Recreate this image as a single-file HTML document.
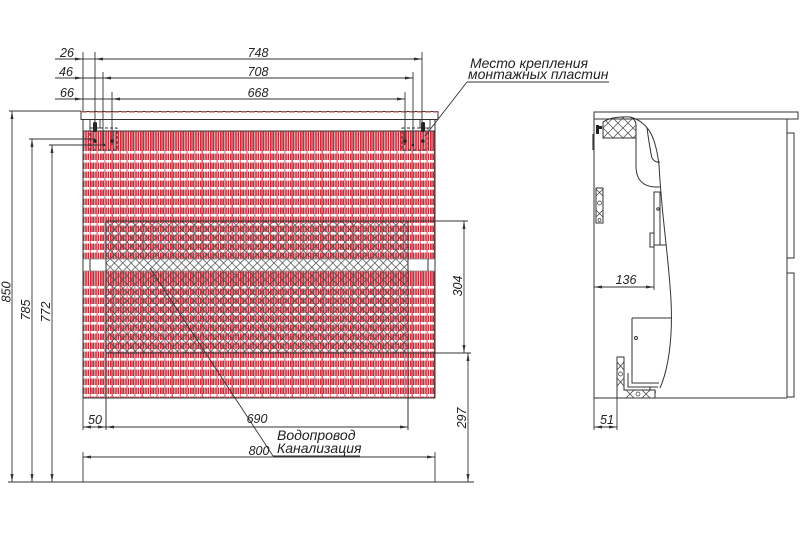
<!DOCTYPE html>
<html><head><meta charset="utf-8">
<style>
html,body{margin:0;padding:0;background:#fff;}
svg{display:block;}
text{font-family:"Liberation Sans","DejaVu Sans",sans-serif;font-style:italic;fill:#222;}
</style></head><body>
<svg width="800" height="533" viewBox="0 0 800 533" xmlns="http://www.w3.org/2000/svg">
<defs>
<marker id="a" markerWidth="8" markerHeight="4" refX="8" refY="2" orient="auto-start-reverse" markerUnits="userSpaceOnUse">
<path d="M0,0.5 L8,2 L0,3.5 Z" fill="#333"/>
</marker>
<pattern id="vs" x="83" y="0" width="10" height="10" patternUnits="userSpaceOnUse">
<rect width="10" height="10" fill="#d88890"/>
<rect x="0" width="1.5" height="10" fill="#a83a44"/>
<rect x="1.5" width="0.8" height="10" fill="#fff"/>
<rect x="2.3" width="1.5" height="10" fill="#e02030"/>
<rect x="3.8" width="1" height="10" fill="#f0c0c4"/>
<rect x="4.8" width="1.5" height="10" fill="#b8323e"/>
<rect x="6.3" width="0.7" height="10" fill="#fff"/>
<rect x="7" width="1.2" height="10" fill="#d82838"/>
<rect x="8.2" width="1.8" height="10" fill="#cf6670"/>
</pattern>
<pattern id="hr" x="83" y="151" width="7.5" height="9" patternUnits="userSpaceOnUse">
<rect x="0" y="0" width="6" height="2.6" fill="#fff" opacity="0.95"/>
</pattern>
<pattern id="xh" x="106" y="221" width="8.4" height="8.4" patternUnits="userSpaceOnUse">
<path d="M0,0 L8.4,8.4 M8.4,0 L0,8.4" stroke="#4a4a4a" stroke-width="0.7" fill="none"/>
</pattern>
<pattern id="xh2" x="603" y="118" width="10" height="10" patternUnits="userSpaceOnUse">
<path d="M0,0 L10,10 M10,0 L0,10" stroke="#444" stroke-width="0.7" fill="none"/>
</pattern>
</defs>

<g stroke="#333" stroke-width="1" fill="none">
<rect x="81" y="111.5" width="357" height="8" fill="#fff"/>
<line x1="81" y1="112" x2="438" y2="112" stroke="#d07070" stroke-dasharray="6 2" stroke-width="1.2"/>
<line x1="83" y1="119.5" x2="83" y2="131"/>
<line x1="435" y1="119.5" x2="435" y2="131"/>
</g>

<!-- cabinet body -->
<rect x="83" y="131" width="352" height="267" fill="url(#vs)"/>
<rect x="83" y="150" width="352" height="108" fill="url(#hr)"/>
<rect x="83" y="285" width="352" height="112" fill="url(#hr)"/>
<rect x="83" y="259" width="352" height="12" fill="#fff"/>
<rect x="106" y="221" width="302" height="132" fill="url(#xh)"/>
<g stroke="#333" stroke-width="1" fill="none">
<rect x="83" y="131" width="352" height="267"/>
<line x1="83" y1="259" x2="435" y2="259" stroke="#888" stroke-width="0.7"/>
<line x1="83" y1="271" x2="435" y2="271" stroke="#888" stroke-width="0.7"/>
<line x1="90" y1="259" x2="90" y2="271"/>
<line x1="428" y1="259" x2="428" y2="271"/>
<line x1="106" y1="221" x2="468" y2="221"/>
<line x1="106" y1="353" x2="471" y2="353"/>
<line x1="106" y1="221" x2="106" y2="430"/>
<line x1="408" y1="221" x2="408" y2="430"/>
</g>

<!-- mounting plates -->
<g stroke="#333" stroke-width="0.9" fill="none">
<rect x="90" y="128" width="27" height="22" stroke-dasharray="3 2"/>
<rect x="90" y="119.5" width="10" height="8.5"/>
<rect x="402" y="128" width="26" height="22" stroke-dasharray="3 2"/>
<rect x="420" y="119.5" width="10" height="8.5"/>
</g>
<g fill="#222">
<rect x="93" y="122" width="4" height="10" rx="1.5"/>
<rect x="421" y="122" width="4" height="10" rx="1.5"/>
<circle cx="95" cy="141" r="1.8"/><circle cx="112" cy="141" r="1.8"/><circle cx="104" cy="145" r="1.3"/>
<circle cx="405" cy="141" r="1.8"/><circle cx="423" cy="141" r="1.8"/><circle cx="413" cy="145" r="1.3"/>
</g>

<!-- top dimensions -->
<g stroke="#333" stroke-width="0.9" fill="none">
<line x1="83" y1="52" x2="83" y2="111"/>
<line x1="95" y1="52" x2="95" y2="132"/>
<line x1="103" y1="72" x2="103" y2="145"/>
<line x1="112" y1="92" x2="112" y2="145"/>
<line x1="422" y1="52" x2="422" y2="132"/>
<line x1="413" y1="72" x2="413" y2="145"/>
<line x1="405" y1="92" x2="405" y2="145"/>

<line x1="55" y1="59" x2="83" y2="59" marker-end="url(#a)"/>
<line x1="83" y1="59" x2="95" y2="59"/>
<line x1="95" y1="59" x2="422" y2="59" marker-start="url(#a)" marker-end="url(#a)"/>

<line x1="55" y1="78" x2="83" y2="78" marker-end="url(#a)"/>
<line x1="83" y1="78" x2="103" y2="78"/>
<line x1="103" y1="78" x2="413" y2="78" marker-start="url(#a)" marker-end="url(#a)"/>

<line x1="55" y1="99" x2="83" y2="99" marker-end="url(#a)"/>
<line x1="83" y1="99" x2="112" y2="99"/>
<line x1="112" y1="99" x2="405" y2="99" marker-start="url(#a)" marker-end="url(#a)"/>
</g>
<g font-size="12.5">
<text x="60" y="57">26</text>
<text x="59" y="76">46</text>
<text x="60" y="97">66</text>
<text x="258" y="57" text-anchor="middle">748</text>
<text x="258" y="76" text-anchor="middle">708</text>
<text x="258" y="97" text-anchor="middle">668</text>
</g>

<!-- leader: mounting plates -->
<g stroke="#333" stroke-width="0.9" fill="none">
<line x1="467" y1="82" x2="609" y2="82"/>
<line x1="467" y1="82" x2="425" y2="136"/>
</g>
<text x="470" y="68" font-size="14">Место крепления</text>
<text x="468" y="79" font-size="14">монтажных пластин</text>

<!-- left vertical dimensions -->
<g stroke="#333" stroke-width="0.9" fill="none">
<line x1="9" y1="111" x2="81" y2="111"/>
<line x1="29" y1="139" x2="95" y2="139"/>
<line x1="49" y1="145" x2="105" y2="145"/>
<line x1="12" y1="111" x2="12" y2="482" marker-start="url(#a)" marker-end="url(#a)"/>
<line x1="32" y1="139" x2="32" y2="482" marker-start="url(#a)" marker-end="url(#a)"/>
<line x1="52" y1="145" x2="52" y2="482" marker-start="url(#a)" marker-end="url(#a)"/>
<line x1="8" y1="482" x2="474" y2="482"/>
</g>
<g font-size="12.5">
<text transform="translate(10.5,292) rotate(-90)" text-anchor="middle">850</text>
<text transform="translate(30,310) rotate(-90)" text-anchor="middle">785</text>
<text transform="translate(50,312) rotate(-90)" text-anchor="middle">772</text>
</g>

<!-- right vertical dims -->
<g stroke="#333" stroke-width="0.9" fill="none">
<line x1="464" y1="221" x2="464" y2="353" marker-start="url(#a)" marker-end="url(#a)"/>
<line x1="468" y1="353" x2="468" y2="482" marker-start="url(#a)" marker-end="url(#a)"/>
</g>
<g font-size="12.5">
<text transform="translate(462,286) rotate(-90)" text-anchor="middle">304</text>
<text transform="translate(466,418) rotate(-90)" text-anchor="middle">297</text>
</g>

<!-- bottom dims -->
<g stroke="#333" stroke-width="0.9" fill="none">
<line x1="83" y1="398" x2="83" y2="430"/>
<line x1="83" y1="427" x2="106" y2="427" marker-start="url(#a)" marker-end="url(#a)"/>
<line x1="106" y1="427" x2="408" y2="427" marker-start="url(#a)" marker-end="url(#a)"/>
<line x1="83" y1="452" x2="83" y2="482"/>
<line x1="435" y1="452" x2="435" y2="482"/>
<line x1="83" y1="457" x2="435" y2="457" marker-start="url(#a)" marker-end="url(#a)"/>
<line x1="150" y1="268" x2="273" y2="456"/>
<line x1="273" y1="456" x2="360" y2="456"/>
</g>
<g font-size="12.5">
<text x="88" y="424">50</text>
<text x="257" y="423" text-anchor="middle">690</text>
<text x="259" y="455" text-anchor="middle">800</text>
</g>
<text x="277" y="440" font-size="14">Водопровод</text>
<text x="277" y="453" font-size="14">Канализация</text>

<!-- ============ side view ============ -->
<g stroke="#333" stroke-width="1" fill="none">
<rect x="594" y="112" width="204" height="7" fill="#fff"/>
<line x1="594" y1="119" x2="594" y2="398"/>
<line x1="787" y1="119" x2="787" y2="398"/>
<line x1="594" y1="398" x2="787" y2="398"/>
<rect x="787" y="133" width="7" height="125" fill="#fff"/>
<rect x="787" y="273" width="7" height="124" fill="#fff"/>
<path d="M603,138 L603,122 Q612,116 630,117 Q636,119 636,126 L636,138 Z" fill="url(#xh2)"/>
<path d="M636,138 L636,168 Q637,186 655,187 L661,187"/>
<path d="M630,117 C650,122 656,140 659,165 C662,220 668,250 671,300 C673,340 668,370 660,388"/>
<path d="M647,128 Q650,150 652,158 Q655,163 660,162"/>
<rect x="654" y="192" width="6" height="53"/>
<rect x="650" y="233" width="4" height="14"/>
<line x1="654" y1="245" x2="666" y2="245"/>
<circle cx="658" cy="209" r="1.3"/>
<line x1="654" y1="245" x2="654" y2="290" stroke-width="0.9"/>
<line x1="594" y1="287" x2="654" y2="287" stroke-width="0.9" marker-start="url(#a)" marker-end="url(#a)"/>
<line x1="632" y1="318" x2="632" y2="373"/>
<line x1="632" y1="318" x2="671" y2="318"/>
<circle cx="636" cy="338" r="1.5"/>
<path d="M628,373 L628,387 L658,387"/>
<path d="M632,373 L632,383 L659,383"/>
<path d="M650,387 L650,392 L656,392"/>
<path d="M617,357 L624,357 L624,390 L655,390 L655,398 L617,398 Z" fill="#fff"/>
<path d="M617,362 L624,370 M624,362 L617,370 M617,378 L624,386 M624,378 L617,386 M626,390 L634,398 M634,390 L626,398 M642,390 L650,398 M650,390 L642,398" stroke-width="0.7"/>
<circle cx="620.5" cy="374" r="2" stroke-width="0.7"/>
<circle cx="638" cy="394" r="2" stroke-width="0.7"/>
<rect x="596" y="188" width="7" height="35" fill="#fff"/>
<path d="M596,189 L603,196 M603,189 L596,196 M596,210 L603,217 M603,210 L596,217" stroke-width="0.7"/>
<circle cx="599.5" cy="203" r="2" stroke-width="0.7"/>
<circle cx="599.5" cy="220" r="1.5" stroke-width="0.7"/>
<line x1="594" y1="398" x2="594" y2="430" stroke-width="0.9"/>
<line x1="617" y1="398" x2="617" y2="430" stroke-width="0.9"/>
<line x1="594" y1="427" x2="617" y2="427" stroke-width="0.9" marker-start="url(#a)" marker-end="url(#a)"/>
</g>
<g fill="#222">
<rect x="596" y="125" width="3" height="9"/>
<rect x="599" y="126" width="3" height="3"/>
</g>
<line x1="593" y1="134" x2="593" y2="150" stroke="#333" stroke-width="1.2"/>
<g font-size="12.5">
<text x="626" y="284" text-anchor="middle">136</text>
<text x="600" y="424">51</text>
</g>
</svg>
</body></html>
